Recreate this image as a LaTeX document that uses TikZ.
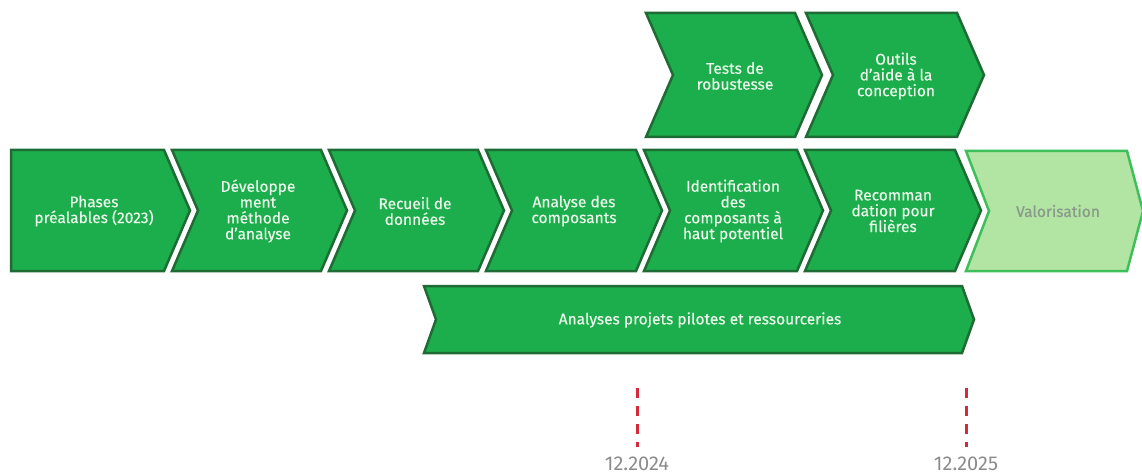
\documentclass[tikz,border=0pt]{standalone}
\usepackage{fontspec}
\setmainfont{Fira Sans}
\newfontfamily\lblfont{Fira Sans}[FakeBold=0.4]
\definecolor{gfill}{HTML}{1CAD4C}
\definecolor{gline}{HTML}{1F6B35}
\definecolor{lfill}{HTML}{B2E4A4}
\definecolor{lline}{HTML}{3FBF5A}
\definecolor{gtext}{HTML}{EAF7EA}
\definecolor{vtext}{HTML}{8A9A88}
\definecolor{dred}{HTML}{D42A3C}
\definecolor{dgrey}{HTML}{8C8C8C}
\tikzset{
  chev/.style={fill=gfill,draw=gline,line width=2.5pt,line join=miter},
  lchev/.style={fill=lfill,draw=lline,line width=2.5pt,line join=miter},
  lbl/.style={text=gtext,align=center,font=\lblfont\fontsize{15.5}{15.8}\selectfont},
  vlbl/.style={text=vtext,align=center,font=\lblfont\fontsize{15.5}{15.8}\selectfont},
  marker/.style={draw=dred,line width=3pt,dash pattern=on 10pt off 8pt},
  datelbl/.style={text=dgrey,anchor=base,inner sep=0pt,font=\fontsize{20}{22}\selectfont},
}
% #1 style, #2 L, #3 R, #4 top, #5 bottom, #6 tip depth, #7 notch depth
\newcommand\chevshape[7]{%
  \path[#1] (#2,#4) -- (#3,#4) -- ({#3+#6},{(#4+#5)/2}) -- (#3,#5) -- (#2,#5) -- ({#2+#7},{(#4+#5)/2}) -- cycle;}
\begin{document}
\begin{tikzpicture}[x=1pt,y=-1pt]
\useasboundingbox (0,0) rectangle (1142,473);
% main row
\chevshape{chev}{11}{164}{150}{271}{26}{0}
\chevshape{chev}{172}{321}{150}{271}{26}{26}
\chevshape{chev}{329}{478}{150}{271}{26}{26}
\chevshape{chev}{486}{636}{150}{271}{26}{26}
\chevshape{chev}{644}{797}{150}{271}{26}{26}
\chevshape{chev}{805}{955}{150}{271}{26}{26}
\chevshape{lchev}{966}{1127}{151}{271}{16}{23}
\node[lbl] (c1) at (94,211) {Phases\\préalables (2023)};
\node[lbl] (c2) at (258,211) {Développe\\ment\\méthode\\d’analyse};
\node[lbl] (c3) at (415,211) {Recueil de\\données};
\node[lbl] (c4) at (574,211) {Analyse des\\composants};
\node[lbl] (c5) at (733,211) {Identification\\des\\composants à\\haut potentiel};
\node[lbl] (c6) at (893,211) {Recomman\\dation pour\\filières};
\node[vlbl] (c7) at (1058,211) {Valorisation};
% top row
\chevshape{chev}{646}{795}{13}{137}{27}{27}
\chevshape{chev}{806}{957}{13}{137}{27}{27}
\node[lbl] (t1) at (735,76) {Tests de\\robustesse};
\node[lbl] (t2) at (896,76) {Outils\\d’aide à la\\conception};
% bottom bar
\chevshape{chev}{424}{962}{286}{353}{12}{12}
\node[lbl] (b1) at (700,320) {Analyses projets pilotes et ressourceries};
% date markers
\node[datelbl] (d1) at (637,470) {12.2024};
\node[datelbl] (d2) at (966,470) {12.2025};
\coordinate (m1) at (637,388);
\coordinate (m2) at (966,388);
\draw[marker] (m1) -- ([yshift=9pt]d1.north);
\draw[marker] (m2) -- ([yshift=9pt]d2.north);
\end{tikzpicture}
\end{document}
